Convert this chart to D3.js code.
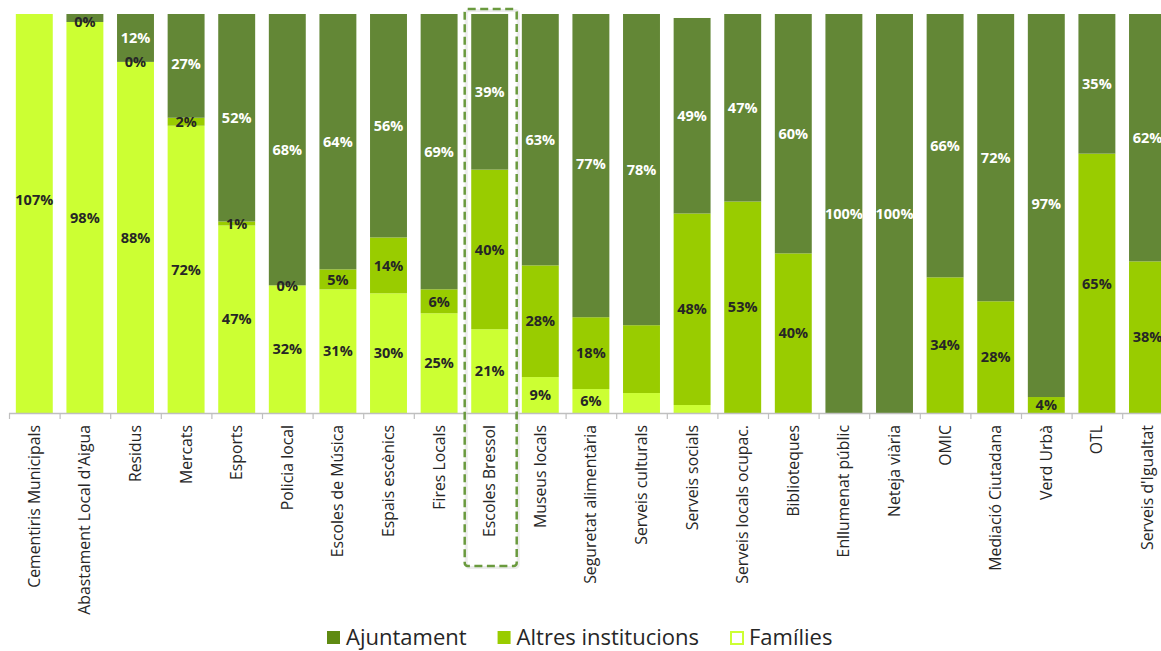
<!DOCTYPE html>
<html>
<head>
<meta charset="utf-8">
<script src="https://cdn.jsdelivr.net/npm/d3@7/dist/d3.min.js"></script>
<style>
  html, body { margin: 0; padding: 0; background: #fff; }
  svg { display: block; font-family: "Open Sans", "DejaVu Sans", sans-serif; }
</style>
</head>
<body>
<svg id="chart" width="1161" height="651"></svg>
<script>
const categories = ["Cementiris Municipals", "Abastament Local d'Aigua", "Residus", "Mercats", "Esports",
  "Policia local", "Escoles de Música", "Espais escènics", "Fires Locals", "Escoles Bressol",
  "Museus locals", "Seguretat alimentària", "Serveis culturals", "Serveis socials",
  "Serveis locals ocupac.", "Biblioteques", "Enllumenat públic", "Neteja viària", "OMIC",
  "Mediació Ciutadana", "Verd Urbà", "OTL", "Serveis d'Igualtat"];

const families   = [107, 98, 88, 72, 47, 32, 31, 30, 25, 21, 9, 6, 5, 2, 0, 0, 0, 0, 0, 0, 0, 0, 0];
const altres     = [0, 0, 0, 2, 1, 0, 5, 14, 6, 40, 28, 18, 17, 48, 53, 40, 0, 0, 34, 28, 4, 65, 38];
const ajuntament = [0, 2, 12, 27, 52, 68, 64, 56, 69, 39, 63, 77, 78, 49, 47, 60, 100, 100, 66, 72, 97, 35, 62];

const labelsFamilies   = ["107%", "98%", "88%", "72%", "47%", "32%", "31%", "30%", "25%", "21%", "9%", "6%", "", "", "", "", "", "", "", "", "", "", ""];
const labelsAltres     = ["", "0%", "0%", "2%", "1%", "0%", "5%", "14%", "6%", "40%", "28%", "18%", "", "48%", "53%", "40%", "", "", "34%", "28%", "4%", "65%", "38%"];
const labelsAjuntament = ["", "", "12%", "27%", "52%", "68%", "64%", "56%", "69%", "39%", "63%", "77%", "78%", "49%", "47%", "60%", "100%", "100%", "66%", "72%", "97%", "35%", "62%"];

const seriesNames = ["Famílies", "Altres institucions", "Ajuntament"];
const legendOrder = ["Ajuntament", "Altres institucions", "Famílies"];
const highlighted = "Escoles Bressol";

const colors = { "Famílies": "#ccff33", "Altres institucions": "#99cc00", "Ajuntament": "#638736" };
const legendColors = { "Famílies": "#ffffff", "Altres institucions": "#99cc00", "Ajuntament": "#5f8a12" };
const textColors = { "Famílies": "#262626", "Altres institucions": "#262626", "Ajuntament": "#ffffff" };

const W = 1161, H = 651;
const plot = { left: 9, top: 14, bottom: 413, step: 50.6 };

const svg = d3.select("#chart");

const x = d3.scaleBand()
  .domain(categories)
  .range([plot.left, plot.left + plot.step * categories.length])
  .paddingInner(0.27)
  .paddingOuter(0.135);

const y = d3.scaleLinear().domain([0, 100]).range([plot.bottom, plot.top]);

const rows = categories.map((c, i) => ({
  cat: c,
  "Famílies": families[i], "Altres institucions": altres[i], "Ajuntament": ajuntament[i],
  labels: { "Famílies": labelsFamilies[i], "Altres institucions": labelsAltres[i], "Ajuntament": labelsAjuntament[i] }
}));

const stacked = d3.stack().keys(seriesNames)(rows);

svg.append("defs").append("clipPath").attr("id", "plotclip")
  .append("rect").attr("x", 0).attr("y", plot.top).attr("width", W).attr("height", plot.bottom - plot.top);

const g = svg.append("g").attr("clip-path", "url(#plotclip)");

stacked.forEach(layer => {
  g.append("g").selectAll("rect").data(layer).join("rect")
    .attr("x", d => x(d.data.cat))
    .attr("width", x.bandwidth())
    .attr("y", d => y(d[1]))
    .attr("height", d => Math.max(0, y(d[0]) - y(d[1])))
    .attr("fill", colors[layer.key]);
});

stacked.forEach(layer => {
  g.append("g").selectAll("text").data(layer.filter(d => d.data.labels[layer.key] !== "")).join("text")
    .attr("x", d => x(d.data.cat) + x.bandwidth() / 2)
    .attr("y", d => y((d[0] + d[1]) / 2))
    .attr("dy", "0.36em")
    .attr("text-anchor", "middle")
    .attr("font-size", 14.5)
    .attr("font-weight", 700)
    .attr("fill", textColors[layer.key])
    .text(d => d.data.labels[layer.key]);
});

// axis
const axisG = svg.append("g");
axisG.append("line")
  .attr("x1", plot.left).attr("x2", W)
  .attr("y1", plot.bottom + 0.5).attr("y2", plot.bottom + 0.5)
  .attr("stroke", "#bfbfbf").attr("stroke-width", 1.5);
const boundaries = d3.range(categories.length + 1).map(i => plot.left + i * x.step());
axisG.selectAll("line.tick").data(boundaries).join("line")
  .attr("class", "tick")
  .attr("x1", d => d + 0.5).attr("x2", d => d + 0.5)
  .attr("y1", plot.bottom).attr("y2", plot.bottom + 6)
  .attr("stroke", "#bfbfbf").attr("stroke-width", 1.2);

axisG.selectAll("text.cat").data(categories).join("text")
  .attr("class", "cat")
  .attr("transform", d => `translate(${x(d) + x.bandwidth() / 2},${plot.bottom + 12}) rotate(-90)`)
  .attr("text-anchor", "end")
  .attr("dy", "0.35em")
  .attr("font-size", 15.8)
  .attr("fill", "#262626")
  .text(d => d);

// highlight box around Escoles Bressol
const hc = x(highlighted) + x.bandwidth() / 2 + 1;
svg.append("rect")
  .attr("x", hc - 26 + 1.5).attr("y", 9 + 1.5)
  .attr("width", 52).attr("height", 557)
  .attr("rx", 3)
  .attr("fill", "none").attr("stroke", "#d9d9d9").attr("stroke-width", 3).attr("opacity", 0.5);
svg.append("rect")
  .attr("x", hc - 26).attr("y", 9)
  .attr("width", 52).attr("height", 557)
  .attr("rx", 3)
  .attr("fill", "none")
  .attr("stroke", "#6a9a3e")
  .attr("stroke-width", 2.5)
  .attr("stroke-dasharray", "8,4.5");

// legend
const leg = svg.append("g");
let lx = 327;
legendOrder.forEach(name => {
  const item = leg.append("g");
  if (name === "Famílies") {
    item.append("rect").attr("x", lx + 1).attr("y", 632).attr("width", 12).attr("height", 12)
      .attr("fill", "#fff").attr("stroke", colors["Famílies"]).attr("stroke-width", 2);
  } else {
    item.append("rect").attr("x", lx).attr("y", 631).attr("width", 13).attr("height", 13)
      .attr("fill", legendColors[name]);
  }
  const t = item.append("text").attr("x", lx + 19).attr("y", 645)
    .attr("font-size", 22).attr("fill", "#262626").text(name);
  lx += 19 + t.node().getComputedTextLength() + 31;
});
</script>
</body>
</html>
